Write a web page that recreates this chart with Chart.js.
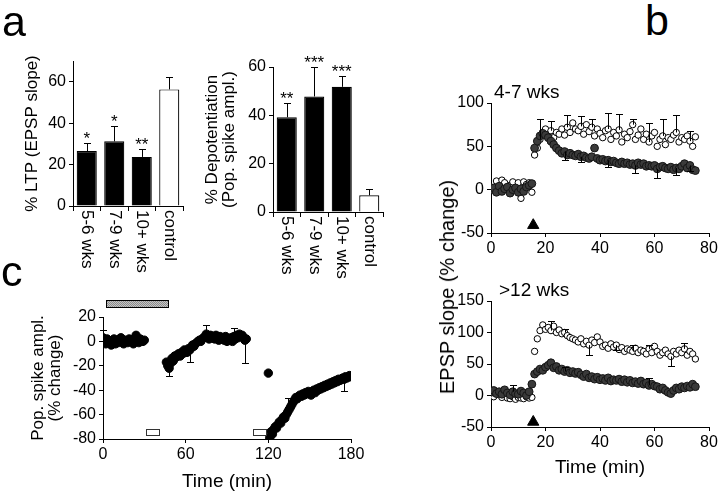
<!DOCTYPE html>
<html>
<head>
<meta charset="utf-8">
<script src="https://cdn.jsdelivr.net/npm/chart.js@4.4.1/dist/chart.umd.min.js"></script>
<style>
  body { margin: 0; background: #fff; }
  #fig { position: relative; width: 720px; height: 497px; overflow: hidden; background: #fff;
         font-family: "Liberation Sans", Arial, sans-serif; color: #000; }
  #fig canvas { position: absolute; }
  .txt { position: absolute; white-space: nowrap; line-height: 1; }
  .letter { font-size: 43px; }
  .inset { font-size: 19px; }
</style>
</head>
<body>
<div id="fig">
  <canvas id="ltp" width="200" height="260" style="left:0px; top:40px"></canvas>
  <canvas id="depot" width="200" height="260" style="left:200px; top:40px"></canvas>
  <canvas id="young" width="280" height="205" style="left:440px; top:60px"></canvas>
  <canvas id="old" width="280" height="237" style="left:440px; top:260px"></canvas>
  <canvas id="spike" width="380" height="207" style="left:0px; top:290px"></canvas>

  <div class="txt letter" style="left:2px; top:0px">a</div>
  <div class="txt letter" style="left:645px; top:-1px">b</div>
  <div class="txt letter" style="left:1px; top:250px">c</div>
  <div class="txt inset" style="left:494px; top:82px">4-7 wks</div>
  <div class="txt inset" style="left:499px; top:280px">&gt;12 wks</div>
  <div class="txt" style="left:447px; top:287px; font-size:20px; transform: translate(-50%, -50%) rotate(-90deg)">EPSP slope (% change)</div>
</div>

<script>
// ---------- data ----------
// panel a: bar charts
const ageGroups = ['5-6 wks', '7-9 wks', '10+ wks', 'control'];
const ltpMean = [26.5, 31.2, 23.7, 56.3];
const ltpSem = [4, 7.2, 3.7, 6.1];
const ltpStars = ['*', '*', '**', ''];
const depotMean = [39.2, 47.8, 51.8, 6.9];
const depotSem = [5.8, 12.2, 4.6, 2.7];
const depotStars = ['**', '***', '***', ''];

// panel b: EPSP slope time courses (min)
const bTimes = [0, 1, 2, 3, 4, 5, 6, 7, 8, 9, 10, 11, 12, 13, 14, 15,
  16, 17, 18, 19, 20, 21, 22, 23, 24, 25, 26, 27, 28, 29, 30, 31, 32, 33, 34, 35,
  36, 37, 38, 39, 40, 41, 42, 43, 44, 45, 46, 47, 48, 49, 50, 51, 52, 53, 54, 55,
  56, 57, 58, 59, 60, 61, 62, 63, 64, 65, 66, 67, 68, 69, 70, 71, 72, 73, 74, 75];

const youngOpen = [3, 0, 10, 4, 11, 8, 1, 5, 9, 2, 8, -10, 9, 6, 8, -3,
  40, 48, 58, 66, 70, 62, 68, 60, 66, 64,
  70, 63, 72, 66, 77, 70, 68, 73, 64, 75,
  67, 72, 62, 70, 65, 60, 68, 70, 58, 66,
  62, 69, 55, 64, 60, 67, 75, 58, 63, 70,
  58, 64, 55, 62, 66, 50, 58, 62, 52, 60,
  58, 63, 66, 55, 60, 58, 62, 56, 50, 61];
const youngFilled = [0, 2, -3, 4, -2, 1, 3, -4, 0, 2, -3, 1, -2, 3, 5, 7,
  48, 56, 62, 65, 63, 60, 56, 52, 48, 45,
  42, 44, 40, 42, 40, 39, 41, 38, 39, 37,
  36, 38, 48, 36, 34, 35, 33, 34, 32, 33,
  31, 30, 32, 30, 31, 29, 30, 28, 31, 29,
  30, 27, 28, 27, 28, 24, 26, 27, 25, 24,
  26, 23, 25, 24, 27, 30, 25, 28, 23, 22];
const youngOpenErr = { 18: 23, 22: 11, 28: 14, 33: 12, 37: 9, 43: 19, 47: 18, 52: 7, 58: 22, 63: 19, 68: 20, 73: 12 };
const youngFilledErr = { 27: -10, 33: -6, 43: -8, 53: -9, 61: -10, 68: -8, 73: -6 };

const oldOpen = [0, -2, 3, 1, -3, 2, -4, -5, -2, -6, -3, -4, -5, -2, -4, -3,
  70, 90, 103, 112, 105, 108, 103, 110, 100, 104,
  98, 100, 95, 92, 90, 88, 85, 90, 82, 86,
  80, 88, 84, 93, 85, 78, 80, 75, 82, 77,
  80, 73, 76, 70, 74, 72, 70, 75, 68, 72,
  70, 66, 74, 68, 78, 70, 64, 68, 72, 66,
  62, 70, 66, 72, 68, 74, 64, 70, 66, 58];
const oldFilled = [5, 8, 3, 6, 2, 9, 4, 1, 6, 3, 2, 7, 4, 0, 6, 18,
  34, 38, 42, 40, 45, 48, 52, 44, 46, 40,
  42, 38, 40, 36, 38, 35, 37, 33, 30, 34,
  28, 30, 26, 29, 25, 27, 24, 28, 23, 25,
  24, 26, 22, 25, 21, 24, 20, 22, 19, 23,
  18, 20, 16, 18, 15, 14, 10, 12, 8, 5,
  3, 8, 12, 10, 14, 12, 15, 13, 18, 14];
const oldOpenErr = { 22: 15, 27: 6, 36: -15, 46: -8, 52: 10, 58: 6, 66: -15, 71: 10 };
const oldFilledErr = { 8: 11, 27: 8, 58: 12 };

// tetanus marker
const tetanusTime = [15.5];
const tetanusYoung = [-41];
const tetanusOld = [-42];

// panel c: population spike amplitude (min)
const cTimesA = [0, 1, 2, 3, 4, 5, 6, 7, 8, 9, 10, 11, 12, 13, 14, 15, 16, 17, 18, 19, 20,
  21, 22, 23, 24, 25, 26, 27, 28, 29, 30];
const cSpikeA = [3, 1, -2, 2, -1, 0, -3, 1, 2, -2, 0, -1, 2, 3, 0, -2, 1, 0, -1, 2,
  0, 1, -2, 1, 5, 0, -1, 2, 1, 0, 1];
const cTimesB = [46, 47, 48, 49, 50, 51, 52, 53, 54, 55, 56, 57, 58, 59, 60, 61, 62, 63, 64, 65,
  66, 67, 68, 69, 70, 71, 72, 73, 74, 75, 76, 77, 78, 79, 80, 81, 82, 83, 84, 85,
  86, 87, 88, 89, 90, 91, 92, 93, 94, 95, 96, 97, 98, 99, 100, 101, 102, 103, 104];
const cSpikeB = [-17, -20, -22, -18, -14, -16, -12, -13, -11, -10,
  -12, -9, -10, -7, -8, -9, -6, -7, -5, -3,
  -4, -2, -1, 0, 1, 0, 2, 3, 4, 6,
  4, 2, 5, 3, 4, 2, 5, 3, 1, 4,
  2, 3, 1, 4, 0, 2, 1, 3, 0, 4,
  2, 5, 3, 6, 4, 5, 3, 1, 2];
const cTimesC = [120, 121, 122, 123, 124, 125, 126, 127, 128, 129, 130, 131, 132, 133, 134, 135,
  136, 137, 138, 139, 140, 141, 142, 143, 144, 145, 146, 147, 148, 149, 150,
  151, 152, 153, 154, 155, 156, 157, 158, 159, 160, 161, 162, 163, 164, 165,
  166, 167, 168, 169, 170, 171, 172, 173, 174, 175, 176, 177, 178, 179, 180];
const cSpikeC = [-26,
  -79, -74, -76, -72, -70, -71, -68, -66, -67, -64,
  -62, -63, -60, -58, -56, -54, -52, -50, -48, -46,
  -47, -45, -44, -45, -43, -44, -42, -43, -41, -42,
  -44, -41, -40, -42, -39, -40, -38, -39, -37, -38,
  -36, -37, -35, -36, -34, -35, -33, -34, -32, -33,
  -31, -32, -31, -30, -31, -29, -30, -29, -28, -29];
const cSpikeErr = { 0: 6.5, 48: -6, 63: -10, 75: 7.5, 95: 7, 103: -19, 134: 12, 175: -10 };
const cWash = [2, 47];          // grey bar (min)
const cWashLevel = [34, 28];
const cBoxes = [[31, 41], [109, 118]];
const cBoxLevel = [-71.5, -77];

// ---------- helpers / plugins ----------
const FONT = '"Liberation Sans", Arial, sans-serif';
Chart.defaults.font.family = FONT;
Chart.defaults.font.size = 16;
Chart.defaults.color = '#000';
Chart.defaults.animation = false;
Chart.defaults.plugins.legend.display = false;
Chart.defaults.plugins.tooltip.enabled = false;

const pts = (xs, ys) => xs.map((x, i) => ({ x: x, y: ys[i] }));

// error bars, one sided (sign gives direction)
const errorBars = {
  id: 'errorBars',
  afterDatasetsDraw(chart) {
    const ctx = chart.ctx, ys = chart.scales.y;
    chart.data.datasets.forEach((ds, di) => {
      if (!ds.errs) return;
      const meta = chart.getDatasetMeta(di);
      meta.data.forEach((el, i) => {
        const raw = ds.data[i];
        const v = typeof raw === 'object' ? raw.y : raw;
        const key = typeof raw === 'object' ? raw.x : i;
        const e = ds.errs[key];
        if (e == null) return;
        const x = Math.round(el.x) + 0.5;
        const y0 = ys.getPixelForValue(v), y1 = Math.round(ys.getPixelForValue(v + e)) + 0.5;
        ctx.save();
        ctx.strokeStyle = '#000';
        ctx.lineWidth = 1;
        ctx.beginPath();
        ctx.moveTo(x, y0);
        ctx.lineTo(x, y1);
        ctx.moveTo(x - 3.5, y1);
        ctx.lineTo(x + 3.5, y1);
        ctx.stroke();
        ctx.restore();
      });
    });
  }
};

// significance stars over the bars
const stars = {
  id: 'stars',
  afterDatasetsDraw(chart) {
    const ds = chart.data.datasets[0];
    if (!ds.stars) return;
    const ctx = chart.ctx, ys = chart.scales.y;
    ctx.save();
    ctx.font = '17px ' + FONT;
    ctx.fillStyle = '#000';
    ctx.textAlign = 'center';
    ctx.textBaseline = 'alphabetic';
    chart.getDatasetMeta(0).data.forEach((bar, i) => {
      const top = ys.getPixelForValue(ds.data[i] + ds.errs[i]);
      ctx.fillText(ds.stars[i], bar.x, top + 1);
    });
    ctx.restore();
  }
};

// category labels rotated to read downwards
const vLabels = {
  id: 'vLabels',
  afterDraw(chart) {
    const xs = chart.scales.x, ctx = chart.ctx;
    ctx.save();
    ctx.font = '17px ' + FONT;
    ctx.fillStyle = '#000';
    ctx.textAlign = 'left';
    ctx.textBaseline = 'middle';
    chart.data.labels.forEach((lab, i) => {
      ctx.save();
      ctx.translate(xs.getPixelForValue(i), xs.top + 4);
      ctx.rotate(Math.PI / 2);
      ctx.fillText(lab, 0, 0);
      ctx.restore();
    });
    ctx.restore();
  }
};

// grey application bar + white boxes of panel c
const cMarks = {
  id: 'cMarks',
  afterDraw(chart) {
    const xs = chart.scales.x, ys = chart.scales.y, ctx = chart.ctx;
    const px = v => Math.round(xs.getPixelForValue(v)) + 0.5;
    const py = v => Math.round(ys.getPixelForValue(v)) + 0.5;
    ctx.save();
    const pc = document.createElement('canvas');
    pc.width = 2; pc.height = 2;
    const g = pc.getContext('2d');
    g.fillStyle = '#c4c4c4'; g.fillRect(0, 0, 2, 2);
    g.fillStyle = '#8c8c8c'; g.fillRect(0, 0, 1, 1); g.fillRect(1, 1, 1, 1);
    ctx.fillStyle = ctx.createPattern(pc, 'repeat');
    ctx.strokeStyle = '#000';
    ctx.lineWidth = 1;
    let x0 = px(cWash[0]), x1 = px(cWash[1]), y0 = py(cWashLevel[0]), y1 = py(cWashLevel[1]);
    ctx.fillRect(x0, y0, x1 - x0, y1 - y0);
    ctx.strokeRect(x0, y0, x1 - x0, y1 - y0);
    ctx.fillStyle = '#fff';
    ctx.strokeStyle = '#333';
    cBoxes.forEach(b => {
      x0 = px(b[0]); x1 = px(b[1]); y0 = py(cBoxLevel[0]); y1 = py(cBoxLevel[1]);
      ctx.fillRect(x0, y0, x1 - x0, y1 - y0);
      ctx.strokeRect(x0, y0, x1 - x0, y1 - y0);
    });
    ctx.restore();
  }
};

function yAxis(min, max, step, width, title, titleOpts) {
  return {
    min: min, max: max,
    border: { color: '#000', width: 1 },
    grid: { drawOnChartArea: false, tickLength: 4, tickColor: '#000' },
    ticks: { stepSize: step, padding: 3, includeBounds: false },
    title: Object.assign({ display: !!title, text: title }, titleOpts || {}),
    afterFit: s => { s.width = width; }
  };
}

// ---------- panel a ----------
function barChart(id, means, sems, starList, yMax, yTitle, titleOpts, pad, xH) {
  return new Chart(document.getElementById(id), {
    type: 'bar',
    data: {
      labels: ageGroups,
      datasets: [{
        data: means,
        errs: sems,
        stars: starList,
        backgroundColor: ['#000', '#000', '#000', '#fff'],
        borderColor: '#000',
        borderWidth: 1.2,
        barPercentage: 0.73,
        categoryPercentage: 1
      }]
    },
    options: {
      responsive: false,
      layout: { padding: pad },
      scales: {
        x: {
          offset: true,
          border: { color: '#000', width: 1 },
          grid: { offset: true, drawOnChartArea: false, tickLength: 5, tickColor: '#000' },
          ticks: { display: false },
          afterFit: s => { s.height = xH; }
        },
        y: yAxis(0, yMax, 20, 73, yTitle, titleOpts)
      }
    },
    plugins: [errorBars, stars, vLabels]
  });
}

barChart('ltp', ltpMean, ltpSem, ltpStars, 70, '% LTP (EPSP slope)',
  { font: { size: 17 }, padding: { top: 22, bottom: 0 } },
  { left: 0, right: 17, top: 21, bottom: 0 }, 94);

barChart('depot', depotMean, depotSem, depotStars, 60, ['% Depotentiation', '(Pop. spike ampl.)'],
  { font: { size: 17, lineHeight: 1.05 }, padding: { top: 3, bottom: 0 } },
  { left: 0, right: 17, top: 27, bottom: 0 }, 88);

// ---------- panel b ----------
function slopeChart(id, openVals, openErr, filledVals, filledErr, triY, yMin, yMax, pad, xH, xTitle) {
  return new Chart(document.getElementById(id), {
    type: 'scatter',
    data: {
      datasets: [
        {
          data: pts(tetanusTime, triY),
          pointStyle: 'triangle', pointRadius: 6.5,
          pointBackgroundColor: '#000', pointBorderColor: '#000', pointBorderWidth: 1
        },
        {
          data: pts(bTimes, filledVals), errs: filledErr,
          pointRadius: 3.9, pointBackgroundColor: '#3a3a3a',
          pointBorderColor: '#151515', pointBorderWidth: 1
        },
        {
          data: pts(bTimes, openVals), errs: openErr,
          pointRadius: 3.2, pointBackgroundColor: '#fff',
          pointBorderColor: '#000', pointBorderWidth: 1
        }
      ]
    },
    options: {
      responsive: false,
      layout: { padding: pad },
      scales: {
        x: {
          type: 'linear', position: 'bottom', min: 0, max: 80,
          border: { color: '#000', width: 1 },
          grid: { drawOnChartArea: false, tickLength: 4, tickColor: '#000' },
          ticks: { stepSize: 20, padding: 2 },
          title: { display: !!xTitle, text: xTitle, font: { size: 19 }, padding: { top: 0, bottom: 17.6 } },
          afterFit: s => { s.height = xH; }
        },
        y: yAxis(yMin, yMax, 50, 51)
      }
    },
    plugins: [errorBars]
  });
}

slopeChart('young', youngOpen, youngOpenErr, youngFilled, youngFilledErr, tetanusYoung, -50, 100,
  { left: 0, right: 11, top: 43, bottom: 0 }, 32, '');
slopeChart('old', oldOpen, oldOpenErr, oldFilled, oldFilledErr, tetanusOld, -50, 150,
  { left: 0, right: 11, top: 41, bottom: 0 }, 70, 'Time (min)');

// ---------- panel c ----------
new Chart(document.getElementById('spike'), {
  type: 'scatter',
  data: {
    datasets: [{
      data: pts(cTimesA, cSpikeA).concat(pts(cTimesB, cSpikeB), pts(cTimesC, cSpikeC)),
      errs: cSpikeErr,
      pointRadius: 4.2, pointBackgroundColor: '#000',
      pointBorderColor: '#000', pointBorderWidth: 1
    }]
  },
  options: {
    responsive: false,
    layout: { padding: { left: 0, right: 29, top: 27, bottom: 0 } },
    scales: {
      x: {
        type: 'linear', position: 'bottom', min: 0, max: 180,
        border: { color: '#000', width: 1 },
        grid: { drawOnChartArea: false, tickLength: 4, tickColor: '#000' },
        ticks: { stepSize: 60, padding: 2 },
        title: { display: true, text: 'Time (min)', font: { size: 19 }, padding: { top: 0, bottom: 4 } },
        afterFit: s => { s.height = 58; }
      },
      y: yAxis(-80, 20, 20, 103, ['Pop. spike ampl.', '(% change)'],
        { font: { size: 17, lineHeight: 1.0 }, padding: { top: 29.5, bottom: 0 } })
    }
  },
  plugins: [errorBars, cMarks]
});
</script>
</body>
</html>
